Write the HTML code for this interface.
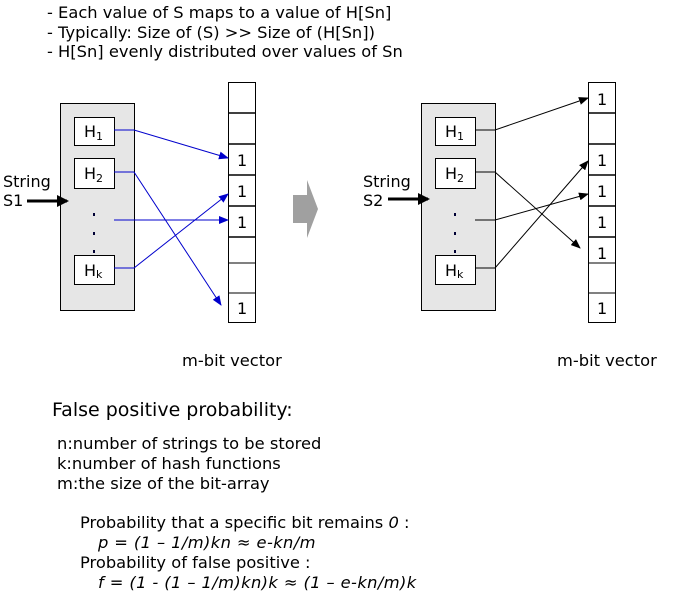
<!DOCTYPE html>
<html><head><style>
body{margin:0;background:#fff;}
.t{position:absolute;font-family:"DejaVu Sans","Liberation Sans",sans-serif;font-size:16.3px;color:#000;white-space:nowrap;line-height:1;}
</style></head><body>
<div style="position:relative;width:680px;height:607px;overflow:hidden">
<div class="t" style="left:47px;top:5px">- Each value of S maps to a value of H[Sn]</div>
<div class="t" style="left:47px;top:25px">- Typically: Size of (S) &gt;&gt; Size of (H[Sn])</div>
<div class="t" style="left:47px;top:44px">- H[Sn] evenly distributed over values of Sn</div>

<svg width="680" height="340" style="position:absolute;left:0;top:0" font-family="DejaVu Sans, Liberation Sans, sans-serif">
<defs>
<marker id="ab" markerWidth="10" markerHeight="8" refX="9" refY="4" orient="auto" markerUnits="userSpaceOnUse"><path d="M0,0L10,4L0,8z" fill="#0000cc"/></marker>
<marker id="ak" markerWidth="10" markerHeight="8" refX="9" refY="4" orient="auto" markerUnits="userSpaceOnUse"><path d="M0,0L10,4L0,8z" fill="#000"/></marker>
<marker id="big" markerWidth="12" markerHeight="12" refX="10" refY="6" orient="auto" markerUnits="userSpaceOnUse"><path d="M0,0L12,6L0,12z" fill="#000"/></marker>
</defs>
<!-- left -->
<rect x="60.5" y="103.5" width="74" height="207" fill="#e6e6e6" stroke="#000"/>
<rect x="74.5" y="117.5" width="40" height="28" fill="#fff" stroke="#000"/>
<rect x="74.5" y="158.5" width="40" height="30" fill="#fff" stroke="#000"/>
<rect x="74.5" y="255.5" width="40" height="29" fill="#fff" stroke="#000"/>
<text x="84" y="137" font-size="16">H<tspan font-size="11" dy="3">1</tspan></text>
<text x="84" y="179" font-size="16">H<tspan font-size="11" dy="3">2</tspan></text>
<text x="84" y="276" font-size="16">H<tspan font-size="11" dy="2">k</tspan></text>
<rect x="93" y="213" width="2" height="3" fill="#003"/><rect x="93" y="232" width="2" height="3" fill="#003"/><rect x="93" y="250" width="2" height="3" fill="#003"/>
<text x="3" y="187" font-size="16">String</text><text x="3" y="206" font-size="16">S1</text>
<line x1="27" y1="201" x2="67" y2="201" stroke="#000" stroke-width="3" marker-end="url(#big)"/>
<g stroke="#000" fill="#fff"><rect x="228.5" y="82.5" width="27" height="240"/></g>
<g stroke="#000" stroke-width="1.5"><line x1="228" y1="113" x2="256" y2="113"/><line x1="228" y1="144" x2="256" y2="144"/><line x1="228" y1="175" x2="256" y2="175"/><line x1="228" y1="206" x2="256" y2="206"/><line x1="228" y1="237" x2="256" y2="237"/></g>
<g stroke="#000"><line x1="228" y1="263" x2="256" y2="263"/><line x1="228" y1="293" x2="256" y2="293"/></g>
<g font-size="16"><text x="237" y="166">1</text><text x="237" y="197">1</text><text x="237" y="228">1</text><text x="237" y="314">1</text></g>
<g stroke="#0000cc" fill="none">
<polyline points="114,130 134,130 228,158" marker-end="url(#ab)"/>
<polyline points="114,172 134,172 221,305" marker-end="url(#ab)"/>
<polyline points="114,220 228,220" marker-end="url(#ab)"/>
<polyline points="114,268 134,268 228,194" marker-end="url(#ab)"/>
</g>
<path d="M293,195h14v-15l11,29l-11,29v-15h-14z" fill="#a0a0a0"/>
<!-- right -->
<rect x="421.5" y="103.5" width="74" height="207" fill="#e6e6e6" stroke="#000"/>
<rect x="435.5" y="117.5" width="40" height="28" fill="#fff" stroke="#000"/>
<rect x="435.5" y="158.5" width="40" height="30" fill="#fff" stroke="#000"/>
<rect x="435.5" y="255.5" width="40" height="29" fill="#fff" stroke="#000"/>
<text x="445" y="137" font-size="16">H<tspan font-size="11" dy="3">1</tspan></text>
<text x="445" y="179" font-size="16">H<tspan font-size="11" dy="3">2</tspan></text>
<text x="445" y="276" font-size="16">H<tspan font-size="11" dy="2">k</tspan></text>
<rect x="454" y="213" width="2" height="3" fill="#003"/><rect x="454" y="232" width="2" height="3" fill="#003"/><rect x="454" y="250" width="2" height="3" fill="#003"/>
<text x="363" y="187" font-size="16">String</text><text x="363" y="206" font-size="16">S2</text>
<line x1="388" y1="199" x2="428" y2="199" stroke="#000" stroke-width="3" marker-end="url(#big)"/>
<rect x="588.5" y="82.5" width="27" height="240" stroke="#000" fill="#fff"/>
<g stroke="#000" stroke-width="1.5"><line x1="588" y1="113" x2="616" y2="113"/><line x1="588" y1="144" x2="616" y2="144"/><line x1="588" y1="175" x2="616" y2="175"/><line x1="588" y1="206" x2="616" y2="206"/><line x1="588" y1="237" x2="616" y2="237"/></g>
<g stroke="#000"><line x1="588" y1="263" x2="616" y2="263"/><line x1="588" y1="293" x2="616" y2="293"/></g>
<g font-size="16"><text x="597" y="105">1</text><text x="597" y="166">1</text><text x="597" y="197">1</text><text x="597" y="228">1</text><text x="597" y="259">1</text><text x="597" y="314">1</text></g>
<g stroke="#000" fill="none">
<polyline points="475,130 495,130 588,98" marker-end="url(#ak)"/>
<polyline points="475,172 495,172 580,248" marker-end="url(#ak)"/>
<polyline points="475,220 495,220 588,194" marker-end="url(#ak)"/>
<polyline points="475,268 495,268 588,161" marker-end="url(#ak)"/>
</g>
</svg>

<div class="t" style="left:182px;top:353px">m-bit vector</div>
<div class="t" style="left:557px;top:353px">m-bit vector</div>
<div class="t" style="left:52px;top:401px;font-size:19px">False positive probability:</div>
<div class="t" style="left:57px;top:436px">n:number of strings to be stored</div>
<div class="t" style="left:57px;top:456px">k:number of hash functions</div>
<div class="t" style="left:57px;top:476px">m:the size of the bit-array</div>
<div class="t" style="left:80px;top:515px">Probability that a specific bit remains <i>0</i> :</div>
<div class="t" style="left:98px;top:535px;font-style:italic;letter-spacing:0.4px">p = (1 – 1/m)kn ≈ e-kn/m</div>
<div class="t" style="left:80px;top:555px">Probability of false positive :</div>
<div class="t" style="left:98px;top:575px;font-style:italic;letter-spacing:0.4px">f = (1 - (1 – 1/m)kn)k ≈ (1 – e-kn/m)k</div>
</div>
</body></html>
